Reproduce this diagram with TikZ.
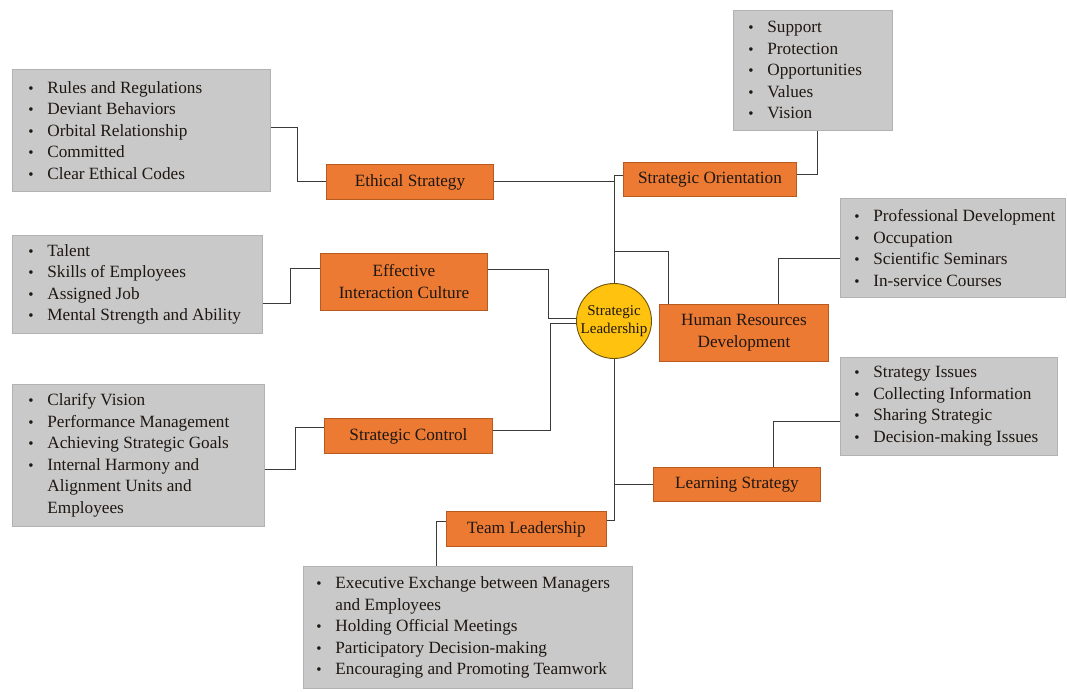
\documentclass[tikz,border=0pt]{standalone}
\usepackage{fontspec}
\setmainfont{Liberation Serif}
\usetikzlibrary{calc}
\definecolor{orfill}{HTML}{EC7A33}
\definecolor{orborder}{HTML}{B65A20}
\definecolor{circfill}{HTML}{FFC20E}
\definecolor{circborder}{HTML}{6B5410}
\definecolor{gfill}{HTML}{C9C9C9}
\definecolor{gborder}{HTML}{B2B2B2}
\definecolor{linec}{HTML}{3A3A3A}
\definecolor{txt}{HTML}{1E1712}
\newcommand{\lfont}{\fontsize{17.2}{21.5}\selectfont}
\newcommand{\bli}[1]{\mbox{\makebox[19pt][l]{\fontsize{15}{15}\selectfont •}#1}}
\newcommand{\blc}[1]{\mbox{\hspace*{19pt}#1}}
\newcommand{\glist}[4]{\parbox[c][#2pt][c]{#1pt}{\leftskip=#3pt\parindent=0pt\relax #4}}
\begin{document}
\begin{tikzpicture}[x=1pt,y=-1pt,
  graybox/.style={draw=gborder,fill=gfill,line width=0.8pt,inner sep=0pt,anchor=north west,font=\lfont,text=txt},
  orbox/.style={draw=orborder,fill=orfill,line width=0.9pt,inner sep=0pt,anchor=north west,align=center,font=\lfont,text=txt},
  link/.style={draw=linec,line width=0.9pt}]
\useasboundingbox[fill=white] (0,0) rectangle (1067,692);
% gray lists
\node[graybox] (rules) at (12,69) {\glist{258}{122}{16}{\bli{Rules and Regulations}\\\bli{Deviant Behaviors}\\\bli{Orbital Relationship}\\\bli{Committed}\\\bli{Clear Ethical Codes}}};
\node[graybox] (tal) at (12,235) {\glist{250}{98}{16}{\bli{Talent}\\\bli{Skills of Employees}\\\bli{Assigned Job}\\\bli{Mental Strength and Ability}}};
\node[graybox] (clar) at (12,384) {\glist{252}{142}{16}{\bli{Clarify Vision}\\\bli{Performance Management}\\\bli{Achieving Strategic Goals}\\\bli{Internal Harmony and}\\\blc{Alignment Units and}\\\blc{Employees}}};
\node[graybox] (sup) at (733,10) {\glist{159}{120}{15}{\bli{Support}\\\bli{Protection}\\\bli{Opportunities}\\\bli{Values}\\\bli{Vision}}};
\node[graybox] (prof) at (840,198) {\glist{225}{99}{14}{\bli{Professional Development}\\\bli{Occupation}\\\bli{Scientific Seminars}\\\bli{In-service Courses}}};
\node[graybox] (strat) at (840,357) {\glist{217}{98}{14}{\bli{Strategy Issues}\\\bli{Collecting Information}\\\bli{Sharing Strategic}\\\bli{Decision-making Issues}}};
\node[graybox] (exec) at (303,566) {\glist{329}{122}{13}{\bli{Executive Exchange between Managers}\\\blc{and Employees}\\\bli{Holding Official Meetings}\\\bli{Participatory Decision-making}\\\bli{Encouraging and Promoting Teamwork}}};
% orange boxes
\node[orbox,minimum width=167pt,minimum height=35pt] (eth) at (326,164) {Ethical Strategy};
\node[orbox,minimum width=173pt,minimum height=34pt] (so) at (623,162) {Strategic Orientation};
\node[orbox,minimum width=167pt,minimum height=57pt,font=\fontsize{17.2}{22}\selectfont] (eic) at (320,253) {Effective\\Interaction Culture};
\node[orbox,minimum width=169pt,minimum height=57pt,font=\fontsize{17.2}{22}\selectfont] (hrd) at (659,304) {Human Resources\\Development};
\node[orbox,minimum width=168pt,minimum height=35pt] (sc) at (324,418) {Strategic Control};
\node[orbox,minimum width=167pt,minimum height=34pt] (ls) at (653,467) {Learning Strategy};
\node[orbox,minimum width=160pt,minimum height=35pt] (tl) at (446,511) {Team Leadership};
% center
\node[circle,draw=circborder,fill=circfill,line width=0.9pt,minimum size=75pt,inner sep=0pt,align=center,text=txt,font=\fontsize{15}{18}\selectfont] (circ) at (614,321) {Strategic\\Leadership};
% connectors
\draw[link] (circ.north) |- ([yshift=4pt]so.west);
\draw[link] (eth.east) -- (eth.east -| circ.north);
\draw[link] ([yshift=3pt]rules.east) -- ++(27,0) |- (eth.west);
\draw[link] ([yshift=5pt]so.east) -| ([xshift=4.5pt]sup.south);
\draw[link] ([xshift=9pt]hrd.north west) |- ($(circ.north)+(0,-32)$);
\draw[link] ([xshift=-50pt]hrd.north east) |- ([yshift=-10.5pt]prof.west);
\draw[link] ([yshift=12.5pt]eic.east) -- ++(61,0) |- ([yshift=3pt]circ.west);
\draw[link] ([yshift=5.5pt]sc.east) -- ++(58,0) |- ([yshift=-2pt]circ.west);
\draw[link] ([yshift=-19pt]tal.east) -- ++(28,0) |- ([yshift=13.5pt]eic.west);
\draw[link] ([yshift=-14pt]clar.east) -- ++(31,0) |- ([yshift=8.5pt]sc.west);
\draw[link] (circ.south) |- ([yshift=8.5pt]tl.east);
\draw[link] (ls.west) -- (ls.west -| circ.south);
\draw[link] ([xshift=-47pt]ls.north east) |- ([yshift=-15pt]strat.west);
\draw[link] ([yshift=7.5pt]tl.west) -| ([xshift=133pt]exec.north west);
\end{tikzpicture}
\end{document}
